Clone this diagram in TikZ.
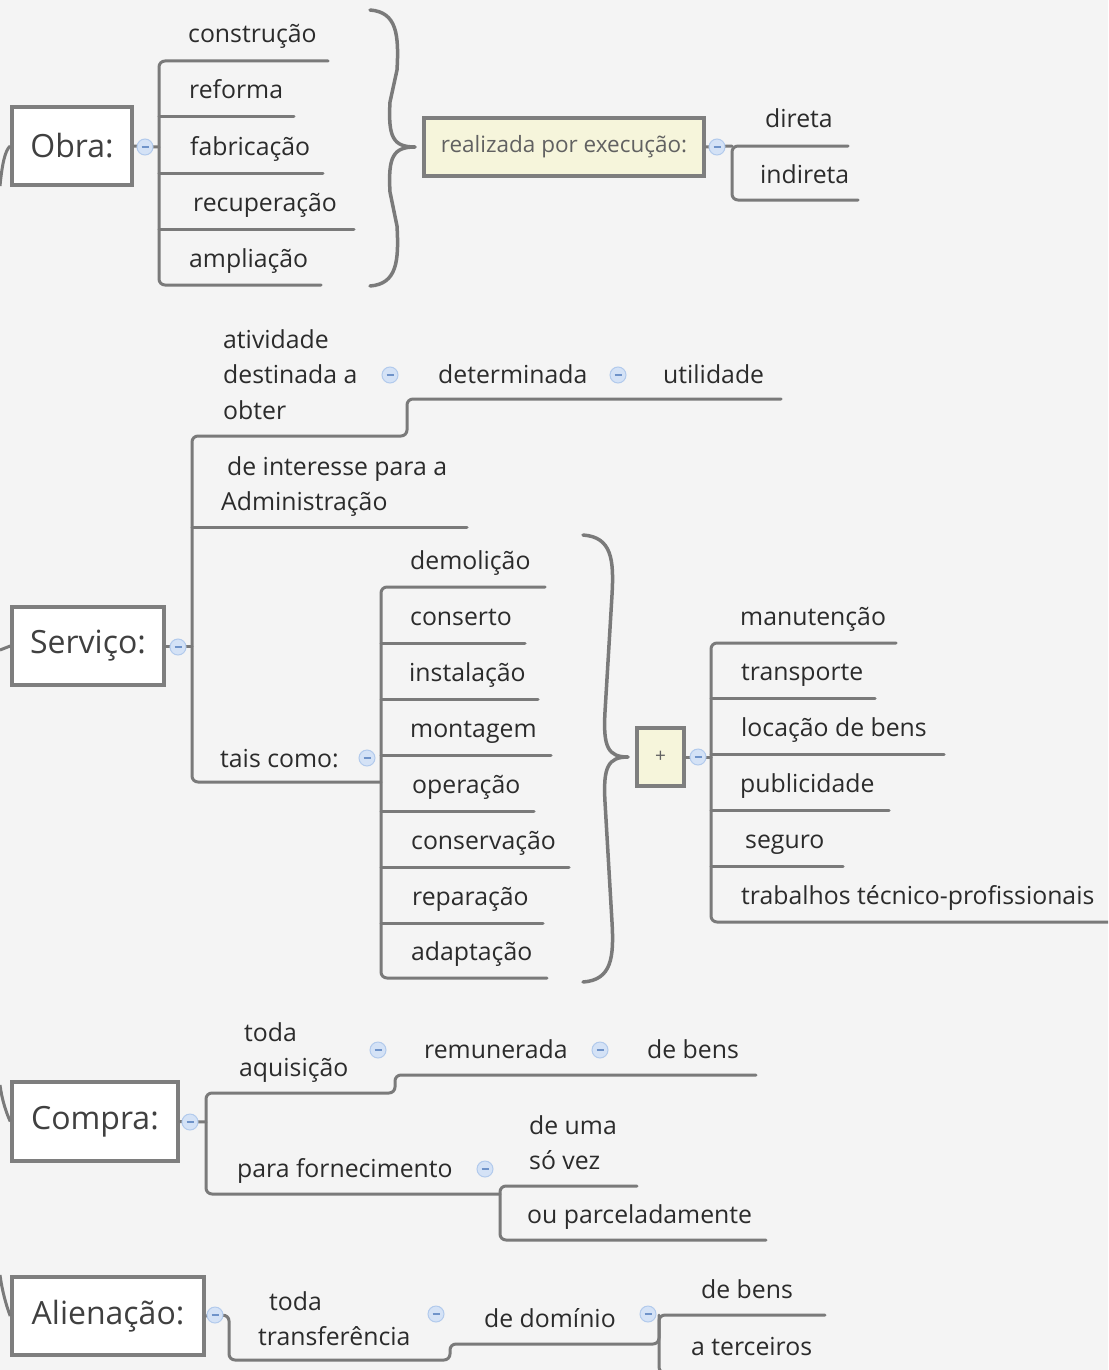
\documentclass[tikz,border=0pt]{standalone}
\usepackage{fontspec}
\setmainfont{Open Sans}
\definecolor{bg}{HTML}{F4F4F4}
\definecolor{linegray}{HTML}{7A7A7A}
\definecolor{boxgray}{HTML}{7E7E7E}
\definecolor{textdark}{HTML}{2B2B2B}
\definecolor{yellowfill}{HTML}{F6F5DB}
\definecolor{colfill}{HTML}{D4E2F6}
\definecolor{colline}{HTML}{B2CAEC}
\definecolor{colminus}{HTML}{6F93C9}
\newcommand\itemfont{\fontsize{24.8}{35.5}\selectfont}
\newcommand\boxfont{\fontsize{32}{38}\selectfont}
\newcommand\smallboxfont{\fontsize{22.5}{27}\selectfont}
\newcommand\drawrbrace[6]{%
  \draw[bracestyle] (#1,#4) .. controls ({#2+2},{#4+2}) and ({#2+4},{#4+25}) .. ({#2+2},{#4+60})
    -- ({#2-5},{#5-45}) .. controls ({#2-7},{#5-10}) and ({#2-2},{#5}) .. (#3,#5)
    .. controls ({#2-2},{#5}) and ({#2-7},{#5+10}) .. ({#2-5},{#5+45})
    -- ({#2+2},{#6-60}) .. controls ({#2+4},{#6-25}) and ({#2+2},{#6-2}) .. (#1,#6);}
\tikzset{
  conn/.style={draw=linegray, line width=3pt, rounded corners=6pt, line cap=round},
  rootconn/.style={draw=linegray, line width=3pt},
  bracestyle/.style={draw=linegray, line width=3.5pt, line cap=round, line join=round},
  topic/.style={draw=boxgray, line width=3.5pt, fill=white, inner sep=0pt, font=\boxfont, text=textdark!90},
  ybox/.style={draw=boxgray, line width=3.5pt, fill=yellowfill, inner sep=0pt, font=\smallboxfont, text=black!62},
  itm/.style={inner sep=0pt, font=\itemfont, text=textdark, anchor=base west},
  collapse/.style={circle, minimum size=16pt, inner sep=0pt, fill=colfill, draw=colline, line width=1pt,
    path picture={\draw[colminus, line width=1.2pt] ([xshift=-3.5pt]path picture bounding box.center) -- ([xshift=3.5pt]path picture bounding box.center);}},
}
\begin{document}
\begin{tikzpicture}[x=1pt, y=-1pt]
\useasboundingbox (0,0) rectangle (1108,1370);
\fill[bg] (0,0) rectangle (1108,1370);
\clip (0,0) rectangle (1108,1370);

% ---------------- Obra ----------------
\node[topic, minimum width=120pt, minimum height=78pt] (obra) at (72,146) {Obra:};
\draw[rootconn] (obra.west) .. controls (5,150) and (2,165) .. (0,186);
\draw[conn] (obra.east) -- (159,147);
\draw[conn] (328,61) -- (159,61) -- (159,285) -- (321,285);
\draw[conn] (159,117) -- (294,117);
\draw[conn] (159,173) -- (323,173);
\draw[conn] (159,229) -- (354,229);
\node[itm] (construcao) at (188,43) {construção};
\node[itm] (reforma) at (189,99) {reforma};
\node[itm] (fabricacao) at (190,155) {fabricação};
\node[itm] (recuperacao) at (193,211) {recuperação};
\node[itm] (ampliacao) at (189,267) {ampliação};
\node[collapse] (c1) at (145,147) {};
\drawrbrace{370}{395}{415}{10}{147}{286}
\node[ybox, minimum width=280pt, minimum height=58pt] (real) at (564,147) {realizada por execução:};
\draw[conn] (848,146) -- (732,146) -- (732,200) -- (858,200);
\draw[conn] (real.east) -- (732,146);
\node[collapse] (c2) at (717,147) {};
\node[itm] (direta) at (765,128) {direta};
\node[itm] (indireta) at (760,183) {indireta};

% ---------------- Servico ----------------
\node[topic, minimum width=152pt, minimum height=78pt] (servico) at (88,646) {Serviço:};
\draw[rootconn] (servico.west) -- (0,650);
\draw[conn] (servico.east) -- (192,646);
\draw[conn] (781,399) -- (407,399) -- (407,436) -- (192,436) -- (192,782) -- (381,782);
\draw[conn] (192,527) -- (467,527);
\node[itm] (atividade) at (223,348) {\begin{tabular}[t]{@{}l@{}}atividade\\destinada a\\obter\end{tabular}};
\node[collapse] (c3) at (390,375) {};
\node[itm] (determinada) at (438,383) {determinada};
\node[collapse] (c4) at (618,375) {};
\node[itm] (utilidade) at (663,383) {utilidade};
\node[itm] (interesse) at (221,475) {\begin{tabular}[t]{@{}l@{}}\hspace*{6pt}de interesse para a\\Administração\end{tabular}};
\node[itm] (tais) at (220,767) {tais como:};
\node[collapse] (c5) at (367,758) {};
\node[collapse] (c0) at (178,647) {};
\draw[conn] (545,587) -- (381,587) -- (381,978) -- (547,978);
\draw[conn] (381,643) -- (525,643);
\draw[conn] (381,699) -- (538,699);
\draw[conn] (381,755) -- (551,755);
\draw[conn] (381,811) -- (534,811);
\draw[conn] (381,867) -- (569,867);
\draw[conn] (381,923) -- (543,923);
\node[itm] (demolicao) at (410,569) {demolição};
\node[itm] (conserto) at (410,625) {conserto};
\node[itm] (instalacao) at (409,681) {instalação};
\node[itm] (montagem) at (410,737) {montagem};
\node[itm] (operacao) at (412,793) {operação};
\node[itm] (conservacao) at (411,849) {conservação};
\node[itm] (reparacao) at (412,905) {reparação};
\node[itm] (adaptacao) at (411,960) {adaptação};
\drawrbrace{583}{610}{628}{535}{757}{982}
\node[ybox, minimum width=47pt, minimum height=58pt, font=\fontsize{19}{22}\selectfont] (plus) at (660.5,757) {+};
\draw[conn] (plus.east) -- (711,757);
\draw[conn] (896,643) -- (711,643) -- (711,922) -- (1112,922);
\draw[conn] (711,698) -- (875,698);
\draw[conn] (711,754) -- (944,754);
\draw[conn] (711,810) -- (889,810);
\draw[conn] (711,866) -- (843,866);
\node[collapse] (c6) at (698,757) {};
\node[itm] (manutencao) at (740,625) {manutenção};
\node[itm] (transporte) at (741,680) {transporte};
\node[itm] (locacao) at (741,736) {locação de bens};
\node[itm] (publicidade) at (740,792) {publicidade};
\node[itm] (seguro) at (745,848) {seguro};
\node[itm] (trabalhos) at (741,904) {trabalhos técnico-profissionais};

% ---------------- Compra ----------------
\node[topic, minimum width=166pt, minimum height=79pt] (compra) at (95,1121.5) {Compra:};
\draw[rootconn] (compra.west) .. controls (6,1112) and (2,1100) .. (0,1085);
\draw[conn] (compra.east) -- (206,1122);
\draw[conn] (756,1075) -- (395,1075) -- (395,1093) -- (206,1093) -- (206,1194) -- (500,1194);
\draw[conn] (637,1186) -- (500,1186) -- (500,1240) -- (766,1240);
\node[collapse] (c7) at (190,1122) {};
\node[itm] (toda1) at (239,1041) {\begin{tabular}[t]{@{}l@{}}\hspace*{5pt}toda\\aquisição\end{tabular}};
\node[collapse] (c8) at (378,1050) {};
\node[itm] (remunerada) at (424,1058) {remunerada};
\node[collapse] (c9) at (600,1050) {};
\node[itm] (debens1) at (647,1058) {de bens};
\node[itm] (fornec) at (237,1177) {para fornecimento};
\node[collapse] (c10) at (485,1169) {};
\node[itm] (deuma) at (529,1134) {\begin{tabular}[t]{@{}l@{}}de uma\\só vez\end{tabular}};
\node[itm] (parcel) at (527,1223) {ou parceladamente};

% ---------------- Alienacao ----------------
\node[topic, minimum width=192pt, minimum height=78pt] (alien) at (108,1316) {Alienação:};
\draw[rootconn] (alien.west) .. controls (6,1305) and (2,1290) .. (0,1275);
\draw[conn] (alien.east) -- (229,1315) -- (229,1360) -- (450,1360) -- (450,1344) -- (659,1344) -- (659,1315) -- (825,1315);
\draw[conn] (659,1315) -- (659,1373) -- (825,1373);
\node[collapse] (c11) at (215,1315) {};
\node[itm] (toda2) at (258,1310) {\begin{tabular}[t]{@{}l@{}}\hspace*{11pt}toda\\transferência\end{tabular}};
\node[collapse] (c12) at (436,1314) {};
\node[itm] (dominio) at (484,1327) {de domínio};
\node[collapse] (c13) at (648,1314) {};
\node[itm] (debens2) at (701,1298) {de bens};
\node[itm] (terceiros) at (691,1355) {a terceiros};
\end{tikzpicture}
\end{document}
